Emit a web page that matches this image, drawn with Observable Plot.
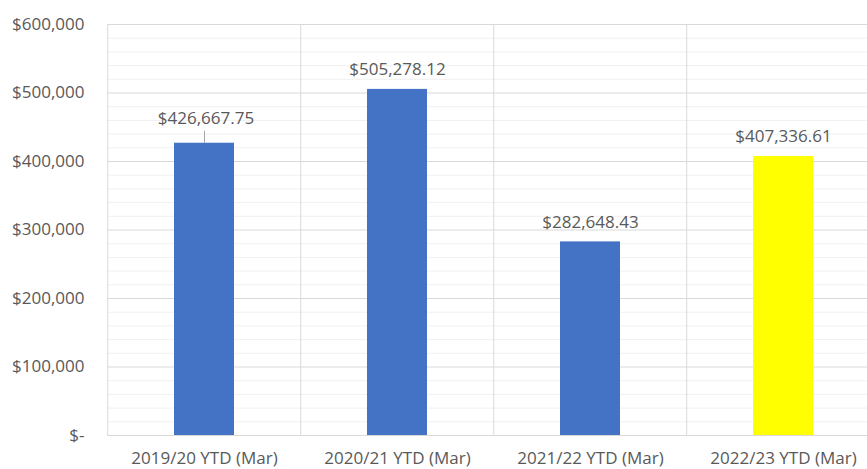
<!DOCTYPE html>
<html>
<head>
<meta charset="utf-8">
<script src="https://cdn.jsdelivr.net/npm/d3@7"></script>
<script src="https://cdn.jsdelivr.net/npm/@observablehq/plot@0.6"></script>
<style>
  html, body { margin: 0; padding: 0; background: #fff; overflow: hidden; }
  #chart svg { display: block; }
</style>
</head>
<body>
<div id="chart"></div>
<script>
const categories = ["2019/20 YTD (Mar)", "2020/21 YTD (Mar)", "2021/22 YTD (Mar)", "2022/23 YTD (Mar)"];
const values = [426667.75, 505278.12, 282648.43, 407336.61];
const highlighted = "2022/23 YTD (Mar)";
const leaderCategory = "2019/20 YTD (Mar)";
const majorTicks = [0, 100000, 200000, 300000, 400000, 500000, 600000];
const majorTickLabels = ["$-", "$100,000", "$200,000", "$300,000", "$400,000", "$500,000", "$600,000"];
const minorTicks = d3.range(0, 600001, 20000).filter(v => v % 100000 !== 0);

const data = categories.map((c, i) => ({category: c, value: values[i]}));
const fmt = d3.format("$,.2f");

const left = 107, right = 881;
const step = (right - left) / categories.length;

const textColor = "#595959";
const plot = Plot.plot({
  width: 867,
  height: 469,
  marginLeft: left,
  marginRight: 0,
  marginTop: 24,
  marginBottom: 34,
  style: {fontFamily: "'Open Sans', sans-serif", fontSize: "17px", color: textColor, background: "#fff"},
  x: {domain: categories, range: [left, right], paddingInner: 0.687, paddingOuter: 0.3435, label: null},
  y: {domain: [0, 600000], label: null},
  marks: [
    Plot.ruleY(minorTicks, {stroke: "#f0f0f0", strokeWidth: 1}),
    Plot.ruleY(majorTicks, {stroke: "#d9d9d9", strokeWidth: 1}),
    Plot.ruleX(categories.slice(1), {x: d => d, dx: -step / 2, stroke: "#d9d9d9", y1: 0, y2: 600000}),
    Plot.ruleX([0], {x: () => categories[0], dx: -step / 2, stroke: "#d9d9d9", y1: 0, y2: 600000}),
    Plot.barY(data, {x: "category", y: "value", fill: d => d.category === highlighted ? "#FFFF00" : "#4472C4"}),
    Plot.ruleX(data.filter(d => d.category === leaderCategory), {x: "category", y1: "value", y2: "value", insetTop: -12, stroke: "#a6a6a6", strokeWidth: 1}),
    Plot.text(data.filter(d => d.category !== leaderCategory), {x: "category", y: "value", text: d => fmt(d.value), lineAnchor: "bottom", dy: -14, fill: textColor}),
    Plot.text(data.filter(d => d.category === leaderCategory), {x: "category", y: "value", text: d => fmt(d.value), lineAnchor: "bottom", dy: -19, dx: 1.5, fill: textColor}),
    Plot.axisY(majorTicks, {tickSize: 0, tickPadding: 23, tickFormat: (d) => majorTickLabels[majorTicks.indexOf(d)], fill: textColor, label: null}),
    Plot.axisX({tickSize: 0, tickPadding: 16, fill: textColor, label: null})
  ]
});
document.getElementById("chart").appendChild(plot);
</script>
</body>
</html>
